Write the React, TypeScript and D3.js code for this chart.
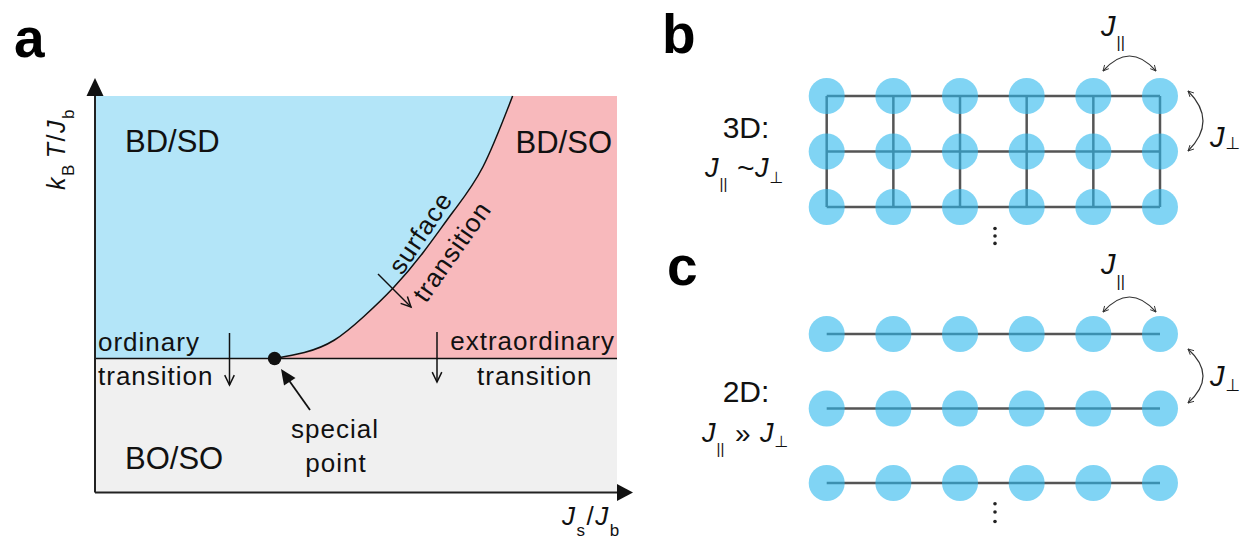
import React from "react";
import * as d3 from "d3";

const FONT = "'Liberation Sans', Arial, 'DejaVu Sans', sans-serif";

// panel a: phase diagram in arbitrary units (0..10 on both axes)
const bulkTc = 3.38;
const specialX = 3.44;
const surfaceX = [3.44, 4.01, 4.58, 5.15, 5.72, 6.29, 6.86, 7.43, 8.0];
const surfaceT = [3.38, 3.53, 3.84, 4.44, 5.17, 6.06, 7.08, 8.21, 10.0];
const phaseColors = { dis: "#b3e5f8", surf: "#f8b9bc", ord: "#f0f0f0" };

// panels b, c: lattice sites and layers
const sites = [1, 2, 3, 4, 5, 6];
const layers3D = [1, 2, 3];
const layers2D = [1, 2, 3];
const siteColor = "#2bb7ed";

const x = d3.scaleLinear().domain([0, 10]).range([95, 617]);
const y = d3.scaleLinear().domain([0, 10]).range([492.5, 96]);

const col = d3.scalePoint<number>().domain(sites).range([826.7, 1160]);
const row3D = d3.scalePoint<number>().domain(layers3D).range([96, 207]);
const row2D = d3.scalePoint<number>().domain(layers2D).range([334, 483]);

const curvePts: [number, number][] = surfaceX.map((v, i) => [v, surfaceT[i]]);
const line = d3
  .line<[number, number]>()
  .x((d) => x(d[0]))
  .y((d) => y(d[1]))
  .curve(d3.curveNatural);

const Arrow = ({ x1, y1, x2, y2 }) => {
  // open V head at (x2, y2)
  const a = Math.atan2(y2 - y1, x2 - x1);
  const len = 11, w = 0.45;
  const p1 = [x2 - len * Math.cos(a - w), y2 - len * Math.sin(a - w)];
  const p2 = [x2 - len * Math.cos(a + w), y2 - len * Math.sin(a + w)];
  return (
    <g stroke="#111" strokeWidth={1.5} fill="none">
      <line x1={x1} y1={y1} x2={x2} y2={y2} />
      <path d={`M${p1[0]},${p1[1]} L${x2},${y2} L${p2[0]},${p2[1]}`} />
    </g>
  );
};

const JSub = ({ x0, y0, size, sub, subDy, subSize }) => (
  <text x={x0} y={y0} fontFamily={FONT} fontSize={size} fill="#111">
    <tspan fontStyle="italic">J</tspan>
    <tspan dy={subDy} fontSize={subSize} dx={1}>
      {sub}
    </tspan>
  </text>
);

const Lattice = ({ rows, rowScale, vertical }) => (
  <g>
    {rows.map((r) => (
      <line key={"h" + r} x1={col(1)} x2={col(6)} y1={rowScale(r)} y2={rowScale(r)} stroke="#555" strokeWidth={2.5} />
    ))}
    {vertical &&
      sites.map((s) => (
        <line key={"v" + s} x1={col(s)} x2={col(s)} y1={rowScale(rows[0])} y2={rowScale(rows[rows.length - 1])} stroke="#555" strokeWidth={2.5} />
      ))}
    {rows.map((r) =>
      sites.map((s) => (
        <circle key={r + "-" + s} cx={col(s)} cy={rowScale(r)} r={18} fill={siteColor} fillOpacity={0.6} />
      ))
    )}
  </g>
);

const Coupling = ({ x1, y1, x2, y2, cx, cy }) => (
  <path d={`M${x1},${y1} Q${cx},${cy} ${x2},${y2}`} fill="none" stroke="#333" strokeWidth={1.2}
    markerStart="url(#head)" markerEnd="url(#head)" />
);

const Dots = ({ cx, ys }) => (
  <g>
    {ys.map((v) => (
      <circle key={v} cx={cx} cy={v} r={1.8} fill="#222" />
    ))}
  </g>
);

export default function App() {
  const curvePath = line(curvePts) as string;
  const blue = `M${x(0)},${y(10)} L${x(0)},${y(bulkTc)} L${curvePath.slice(1)} Z`;
  const pink = `${curvePath} L${x(10)},${y(10)} L${x(10)},${y(bulkTc)} Z`;
  const small = { fontFamily: FONT, fontSize: 26, letterSpacing: 1, fill: "#111" };
  const big = { fontFamily: FONT, fontSize: 31, fill: "#111" };

  return (
    <svg width={1242} height={540} style={{ position: "absolute", left: 0, top: 0, background: "#fff" }}>
      <defs>
        <marker id="head" viewBox="0 0 10 10" refX={9} refY={5} markerWidth={7} markerHeight={7}
          orient="auto-start-reverse" markerUnits="userSpaceOnUse">
          <path d="M1,1 L9,5 L1,9" fill="none" stroke="#333" strokeWidth={1.3} />
        </marker>
      </defs>

      {/* panel a */}
      <text x={14} y={57} fontFamily={FONT} fontWeight="bold" fontSize={55}>a</text>
      <rect x={x(0)} y={y(bulkTc)} width={x(10) - x(0)} height={y(0) - y(bulkTc)} fill={phaseColors.ord} />
      <path d={blue} fill={phaseColors.dis} />
      <path d={pink} fill={phaseColors.surf} />
      <path d={curvePath} fill="none" stroke="#111" strokeWidth={1.5} />
      <line x1={x(0)} x2={x(10)} y1={y(bulkTc)} y2={y(bulkTc)} stroke="#111" strokeWidth={1.5} />

      {/* axes */}
      <line x1={x(0)} x2={x(0)} y1={y(0)} y2={y(10)} stroke="#222" strokeWidth={2} />
      <path d={`M${x(0)},78 L${x(0) - 8.5},${y(10)} L${x(0) + 8.5},${y(10)} Z`} fill="#111" />
      <line x1={x(0)} x2={x(10)} y1={y(0)} y2={y(0)} stroke="#222" strokeWidth={2} />
      <path d={`M633,${y(0)} L${x(10)},${y(0) - 8.5} L${x(10)},${y(0) + 8.5} Z`} fill="#111" />

      <text transform="translate(65,190) rotate(-90)" fontFamily={FONT} fontSize={25} letterSpacing={1.5} fill="#111">
        <tspan fontStyle="italic">k</tspan>
        <tspan fontSize={17} dy={9}>B</tspan>
        <tspan fontStyle="italic" dy={-9} dx={5}>T</tspan>
        <tspan>/</tspan>
        <tspan fontStyle="italic">J</tspan>
        <tspan fontSize={17} dy={9}>b</tspan>
      </text>
      <text x={562} y={525} fontFamily={FONT} fontSize={26} letterSpacing={1.5} fill="#111">
        <tspan fontStyle="italic">J</tspan>
        <tspan fontSize={17} dy={11}>s</tspan>
        <tspan dy={-11}>/</tspan>
        <tspan fontStyle="italic">J</tspan>
        <tspan fontSize={17} dy={11}>b</tspan>
      </text>

      <text x={125} y={152} {...big}>BD/SD</text>
      <text x={612} y={153} textAnchor="end" {...big}>BD/SO</text>
      <text x={125} y={468.5} {...big}>BO/SO</text>

      <text x={98} y={350.5} {...small}>ordinary</text>
      <text x={98} y={385} {...small}>transition</text>
      <text x={615} y={350} textAnchor="end" {...small}>extraordinary</text>
      <text x={477} y={385} {...small}>transition</text>
      <text x={335} y={438.3} textAnchor="middle" {...small}>special</text>
      <text x={336} y={471.7} textAnchor="middle" {...small}>point</text>
      <text transform="translate(402,276) rotate(-56)" {...small}>surface</text>
      <text transform="translate(426,304) rotate(-55)" {...small}>transition</text>

      <Arrow x1={229.5} y1={333} x2={229.5} y2={385} />
      <Arrow x1={437} y1={332} x2={437} y2={382} />
      <Arrow x1={378} y1={274} x2={411} y2={307} />
      <line x1={310} y1={410} x2={288} y2={379} stroke="#111" strokeWidth={1.8} />
      <path d="M281,369 L295.5,378 L284,385.5 Z" fill="#111" />
      <circle cx={x(specialX)} cy={y(bulkTc)} r={6.7} fill="#111" />

      {/* panel b */}
      <text x={662} y={53} fontFamily={FONT} fontWeight="bold" fontSize={55}>b</text>
      <Lattice rows={layers3D} rowScale={row3D} vertical={true} />
      <Dots cx={995} ys={[228.5, 236, 243.4]} />
      <text x={746} y={137.5} textAnchor="middle" fontFamily={FONT} fontSize={30} fill="#111">3D:</text>
      <JSub x0={705} y0={177} size={27} sub="||" subDy={12} subSize={15} />
      <text x={737} y={178} fontFamily={FONT} fontSize={30} fill="#111">~</text>
      <JSub x0={755} y0={177} size={27} sub="⊥" subDy={6} subSize={16} />

      <JSub x0={1101} y0={36} size={29} sub="||" subDy={12} subSize={16} />
      <Coupling x1={1103} y1={71} x2={1156} y2={71} cx={1129.5} cy={41} />
      <JSub x0={1210} y0={147} size={29} sub="⊥" subDy={2} subSize={17} />
      <Coupling x1={1188} y1={91} x2={1188} y2={151} cx={1218} cy={121} />

      {/* panel c */}
      <text x={667} y={285} fontFamily={FONT} fontWeight="bold" fontSize={55}>c</text>
      <Lattice rows={layers2D} rowScale={row2D} vertical={false} />
      <Dots cx={995} ys={[503.7, 512, 521.5]} />
      <text x={746} y={401.7} textAnchor="middle" fontFamily={FONT} fontSize={30} fill="#111">2D:</text>
      <JSub x0={702} y0={442} size={27} sub="||" subDy={12} subSize={15} />
      <text x={735} y={443} fontFamily={FONT} fontSize={28} fill="#111">»</text>
      <JSub x0={760} y0={442} size={27} sub="⊥" subDy={5} subSize={16} />

      <JSub x0={1101} y0={273.5} size={29} sub="||" subDy={13} subSize={16} />
      <Coupling x1={1103} y1={312} x2={1156} y2={312} cx={1129.5} cy={282} />
      <JSub x0={1210} y0={386} size={29} sub="⊥" subDy={5} subSize={17} />
      <Coupling x1={1188} y1={349} x2={1188} y2={403} cx={1218} cy={376} />
    </svg>
  );
}
